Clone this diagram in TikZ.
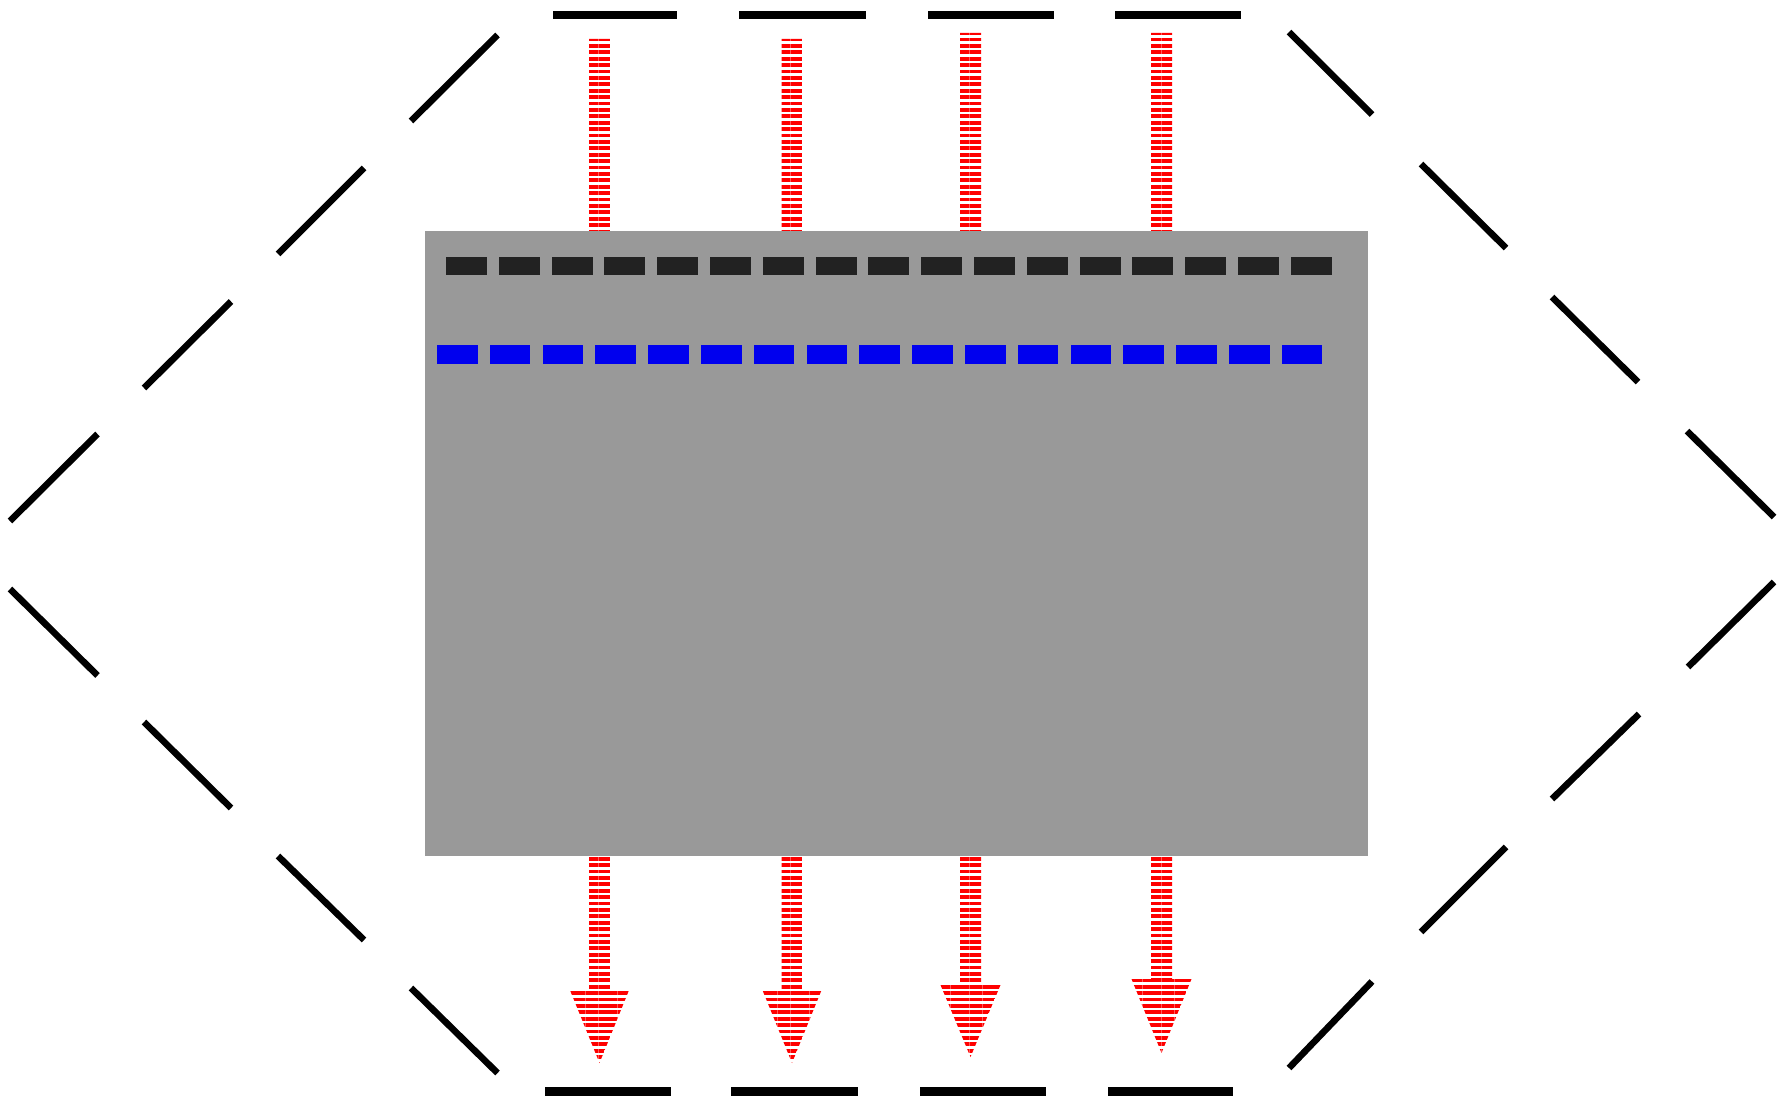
\documentclass[tikz,border=0pt]{standalone}
\usetikzlibrary{patterns.meta}
\definecolor{rectgray}{HTML}{999999}
\definecolor{darkbar}{HTML}{222222}
\definecolor{bluebar}{HTML}{0000EE}
\begin{document}
\begin{tikzpicture}[x=0.5pt,y=-0.5pt,
  hexdiag/.style={black,line width=3.3pt},
  hexflat/.style={black,line width=4.2pt},
  flowarrow/.style={pattern={Lines[angle=0,distance=3.2pt,line width=1.9pt]},pattern color=red},
]
\useasboundingbox (0,0) rectangle (1777,1102);
% flow arrows (behind the slab)
\foreach \cx/\tp/\hb/\tip in {599.5/39/989/1063, 792/39/989/1063, 970.5/33/985/1057, 1161.5/33/979/1053}{
  \path[flowarrow] (\cx-10.5,\tp) -- (\cx+10.5,\tp) -- (\cx+10.5,\hb) -- (\cx+30,\hb)
    -- (\cx,\tip) -- (\cx-30,\hb) -- (\cx-10.5,\hb) -- cycle;
}
% slab
\node[fill=rectgray,inner sep=0pt,minimum width=471.5pt,minimum height=312.5pt,anchor=north west] (slab) at (425,231) {};
% bar rows
\foreach \i in {0,...,16}{
  \fill[darkbar] ({446+\i*52.8},257) rectangle ++(41,18);
  \fill[bluebar] ({437+\i*52.8},345) rectangle ++(40.5,19);
}
% dashed hexagon: horizontal pieces
\foreach \a/\b in {553/677, 739/866, 928/1054, 1115/1241}{
  \draw[hexflat] (\a,15) -- (\b,15);
}
\foreach \a/\b in {545/671, 731/858, 920/1046, 1108/1233}{
  \draw[hexflat] (\a,1091.5) -- (\b,1091.5);
}
% diagonal pieces
\foreach \x/\y/\u/\v in {
  10/521/97.5/434, 144/388/231/301.5, 278/254/364/168, 411/121/497.5/35,
  10/589/97.5/675.5, 144/722/231/808, 278/856/364/940, 411/988/497.5/1073,
  1289/32/1372/114.5, 1421/164/1506/248, 1552/297/1638/382, 1687/431/1774/517,
  1688/667/1774/582, 1552/799/1639/714, 1421/932/1506/847, 1289/1068/1372/981.5}{
  \draw[hexdiag] (\x,\y) -- (\u,\v);
}
\end{tikzpicture}
\end{document}
